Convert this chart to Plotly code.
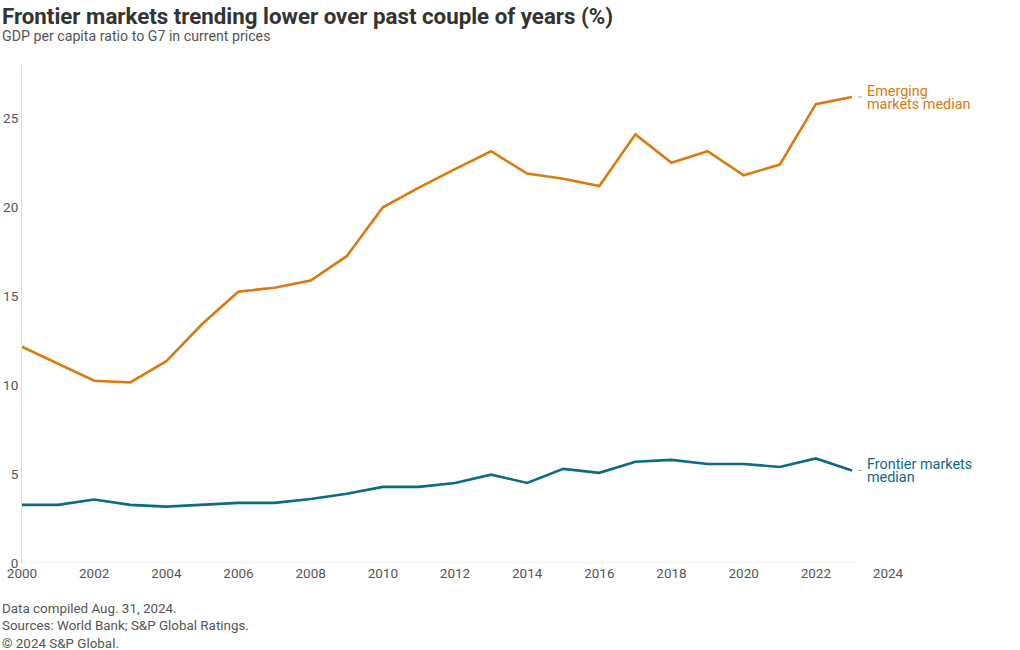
import plotly.graph_objects as go

years = list(range(2000, 2024))
emerging = [12.16, 11.2, 10.25, 10.15, 11.35, 13.45, 15.26, 15.48, 15.88, 17.25,
            20.0, 21.1, 22.15, 23.15, 21.9, 21.6, 21.2, 24.1, 22.5, 23.15,
            21.8, 22.4, 25.8, 26.2]
frontier = [3.27, 3.27, 3.57, 3.27, 3.17, 3.27, 3.38, 3.38, 3.6, 3.89,
            4.28, 4.28, 4.5, 4.97, 4.5, 5.29, 5.07, 5.69, 5.8, 5.57,
            5.57, 5.4, 5.88, 5.2]
x_ticks = list(range(2000, 2025, 2))
y_ticks = [0, 5, 10, 15, 20, 25]

ORANGE = "#DA7A0F"
TEAL = "#0B6A86"
FONT = "Roboto"
L, R, T, B = 22, 132, 65, 87
W, H = 1020, 650
PW, PH = W - L - R, H - T - B

fig = go.Figure()
fig.add_trace(go.Scatter(x=years, y=emerging, mode="lines",
                         line=dict(color=ORANGE, width=2.6), hoverinfo="skip"))
fig.add_trace(go.Scatter(x=years, y=frontier, mode="lines",
                         line=dict(color=TEAL, width=2.6), hoverinfo="skip"))

# x axis baseline
fig.add_shape(type="line", xref="x", yref="y", x0=2000, x1=2023.1, y0=0, y1=0,
              line=dict(color="#dddddd", width=1), layer="below")

# end labels (two lines each, tight spacing)
labels = [(emerging[-1], ["Emerging", "markets median"], ORANGE),
          (frontier[-1], ["Frontier markets", "median"], TEAL)]
for v, lines, col in labels:
    for i, txt in enumerate(lines):
        fig.add_annotation(x=years[-1], y=v, xref="x", yref="y", text=txt,
                           showarrow=False, xanchor="left", yanchor="middle",
                           xshift=13, yshift=6 - 13 * i, align="left",
                           font=dict(family=FONT, size=14.4, color=col))
    fig.add_shape(type="line", xref="x", yref="y", xsizemode="pixel",
                  xanchor=years[-1], x0=6, x1=10, y0=v, y1=v,
                  line=dict(color="#aaaaaa", width=1))

fig.add_annotation(x=-L / PW, y=1 + (T - 1) / PH, xref="paper", yref="paper",
                   xanchor="left", yanchor="top",
                   text="<b>Frontier markets trending lower over past couple of years (%)</b>",
                   showarrow=False, font=dict(family=FONT, size=22.3, color="#333333"))
fig.add_annotation(x=-L / PW, y=1 + (T - 26) / PH, xref="paper", yref="paper",
                   xanchor="left", yanchor="top",
                   text="GDP per capita ratio to G7 in current prices",
                   showarrow=False, font=dict(family=FONT, size=14.2, color="#555555"))
fig.add_annotation(x=-L / PW, y=-(599 - (H - B)) / PH, xref="paper", yref="paper",
                   xanchor="left", yanchor="top", align="left",
                   text="Data compiled Aug. 31, 2024.<br>Sources: World Bank; S&P Global Ratings.<br>© 2024 S&P Global.",
                   showarrow=False, font=dict(family=FONT, size=13.4, color="#555555"))

fig.update_layout(
    width=W, height=H,
    margin=dict(l=L, r=R, t=T, b=B, autoexpand=False),
    paper_bgcolor="white", plot_bgcolor="white",
    showlegend=False,
    font=dict(family=FONT, size=13.5, color="#555555"),
    xaxis=dict(range=[2000, 2024], tickvals=x_ticks, showgrid=False, zeroline=False,
               showline=False, ticks="", automargin=False,
               tickfont=dict(size=13.5, color="#555555")),
    yaxis=dict(range=[0, 28], tickvals=y_ticks, showgrid=False, zeroline=False,
               showline=True, linecolor="#dddddd", linewidth=1, ticks="",
               automargin=False, tickfont=dict(size=13.5, color="#555555")),
)

fig.write_html("out.html", config={"displayModeBar": False},
               post_script="document.body.style.margin='0';")
